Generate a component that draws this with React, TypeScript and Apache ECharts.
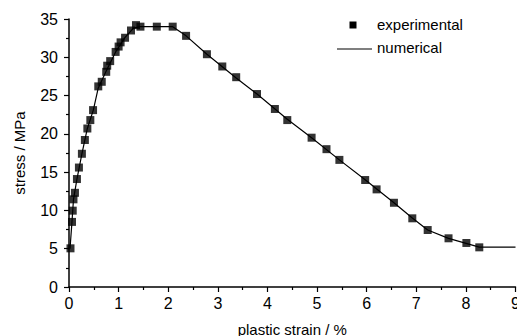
import React, { useEffect, useRef } from "react";
import * as echarts from "echarts";

const expStrain = [0.03, 0.06, 0.075, 0.09, 0.12, 0.16, 0.2, 0.26, 0.32, 0.37, 0.43, 0.485, 0.59, 0.66, 0.75, 0.77, 0.83, 0.94, 1.0, 1.04, 1.13, 1.25, 1.35, 1.44, 1.77, 2.09, 2.36, 2.78, 3.09, 3.37, 3.79, 4.15, 4.4, 4.89, 5.19, 5.45, 5.97, 6.2, 6.55, 6.92, 7.23, 7.65, 8.01, 8.27];
const expStress = [5.05, 8.5, 9.97, 11.45, 12.3, 14.1, 15.6, 17.4, 19.2, 20.7, 21.8, 23.1, 26.2, 26.8, 28.1, 28.9, 29.5, 30.7, 31.4, 31.95, 32.55, 33.5, 34.2, 34.0, 34.0, 34.0, 32.8, 30.4, 28.8, 27.4, 25.2, 23.25, 21.8, 19.5, 18.0, 16.6, 13.97, 12.75, 11.0, 8.97, 7.44, 6.36, 5.75, 5.18];

const numStrain = [0.02, 0.06, 0.09, 0.16, 0.26, 0.37, 0.49, 0.59, 0.75, 0.94, 1.13, 1.3, 1.44, 2.09, 2.36, 2.78, 3.37, 3.79, 4.4, 4.89, 5.45, 5.97, 6.55, 6.92, 7.23, 7.65, 8.27, 9.0];
const numStress = [5.0, 8.5, 11.4, 14.1, 17.4, 20.7, 23.1, 26.0, 28.2, 30.7, 32.6, 33.8, 34.0, 34.0, 32.8, 30.4, 27.3, 25.2, 21.9, 19.5, 16.6, 14.0, 11.0, 9.0, 7.45, 6.35, 5.2, 5.2];

const xTicks = { min: 0, max: 9, interval: 1 };
const yTicks = { min: 0, max: 35, interval: 5 };

const FONT = "'Liberation Sans', Arial, Helvetica, sans-serif";

export default function App() {
  const ref = useRef<HTMLDivElement>(null);
  useEffect(() => {
    if (!ref.current) return;
    const chart = echarts.init(ref.current, undefined, { renderer: "svg" });
    const axisCommon = {
      type: "value" as const,
      axisLine: { show: true, onZero: false, lineStyle: { color: "#000", width: 1.5 } },
      axisTick: { show: true, inside: false, length: 5, lineStyle: { color: "#000", width: 1.2 } },
      minorTick: { show: true, splitNumber: 2, length: 3, lineStyle: { color: "#000", width: 1.2 } },
      splitLine: { show: false },
      axisLabel: { color: "#000", fontSize: 16, fontFamily: FONT },
      nameTextStyle: { color: "#000", fontSize: 15, fontFamily: FONT },
    };
    chart.setOption({
      animation: false,
      backgroundColor: "#fff",
      grid: { left: 69, right: 1.5, top: 19, bottom: 49, containLabel: false, outerBoundsMode: "none" },
      xAxis: {
        ...axisCommon,
        min: xTicks.min,
        max: xTicks.max,
        interval: xTicks.interval,
        name: "plastic strain / %",
        nameLocation: "middle",
        nameGap: 35,
        axisLabel: { ...axisCommon.axisLabel, margin: 8 },
      },
      yAxis: {
        ...axisCommon,
        min: yTicks.min,
        max: yTicks.max,
        interval: yTicks.interval,
        name: "stress / MPa",
        nameLocation: "middle",
        nameGap: 42,
        axisLabel: { ...axisCommon.axisLabel, margin: 11 },
      },
      series: [
        {
          name: "numerical",
          type: "line",
          data: numStrain.map((x, i) => [x, numStress[i]]),
          showSymbol: false,
          symbol: "none",
          lineStyle: { color: "#000", width: 1.2 },
          z: 2,
        },
        {
          name: "experimental",
          type: "scatter",
          data: expStrain.map((x, i) => [x, expStress[i]]),
          symbol: "rect",
          symbolSize: 8,
          itemStyle: { color: "#000" },
          z: 3,
        },
      ],
      graphic: [
        { type: "rect", shape: { x: 349.5, y: 21.5, width: 7, height: 7 }, style: { fill: "#000" } },
        { type: "line", shape: { x1: 337, y1: 49, x2: 372, y2: 49 }, style: { stroke: "#000", lineWidth: 1.2 } },
        { type: "text", x: 377, y: 24, style: { text: "experimental", fill: "#000", font: `15px ${FONT}`, verticalAlign: "middle" } },
        { type: "text", x: 377, y: 47, style: { text: "numerical", fill: "#000", font: `15px ${FONT}`, verticalAlign: "middle" } },
      ],
    });
    return () => chart.dispose();
  }, []);
  return (
    <div style={{ position: "absolute", left: 0, top: 0, width: 517, height: 336, overflow: "hidden" }}>
      <div ref={ref} style={{ width: 517, height: 336 }} />
    </div>
  );
}
